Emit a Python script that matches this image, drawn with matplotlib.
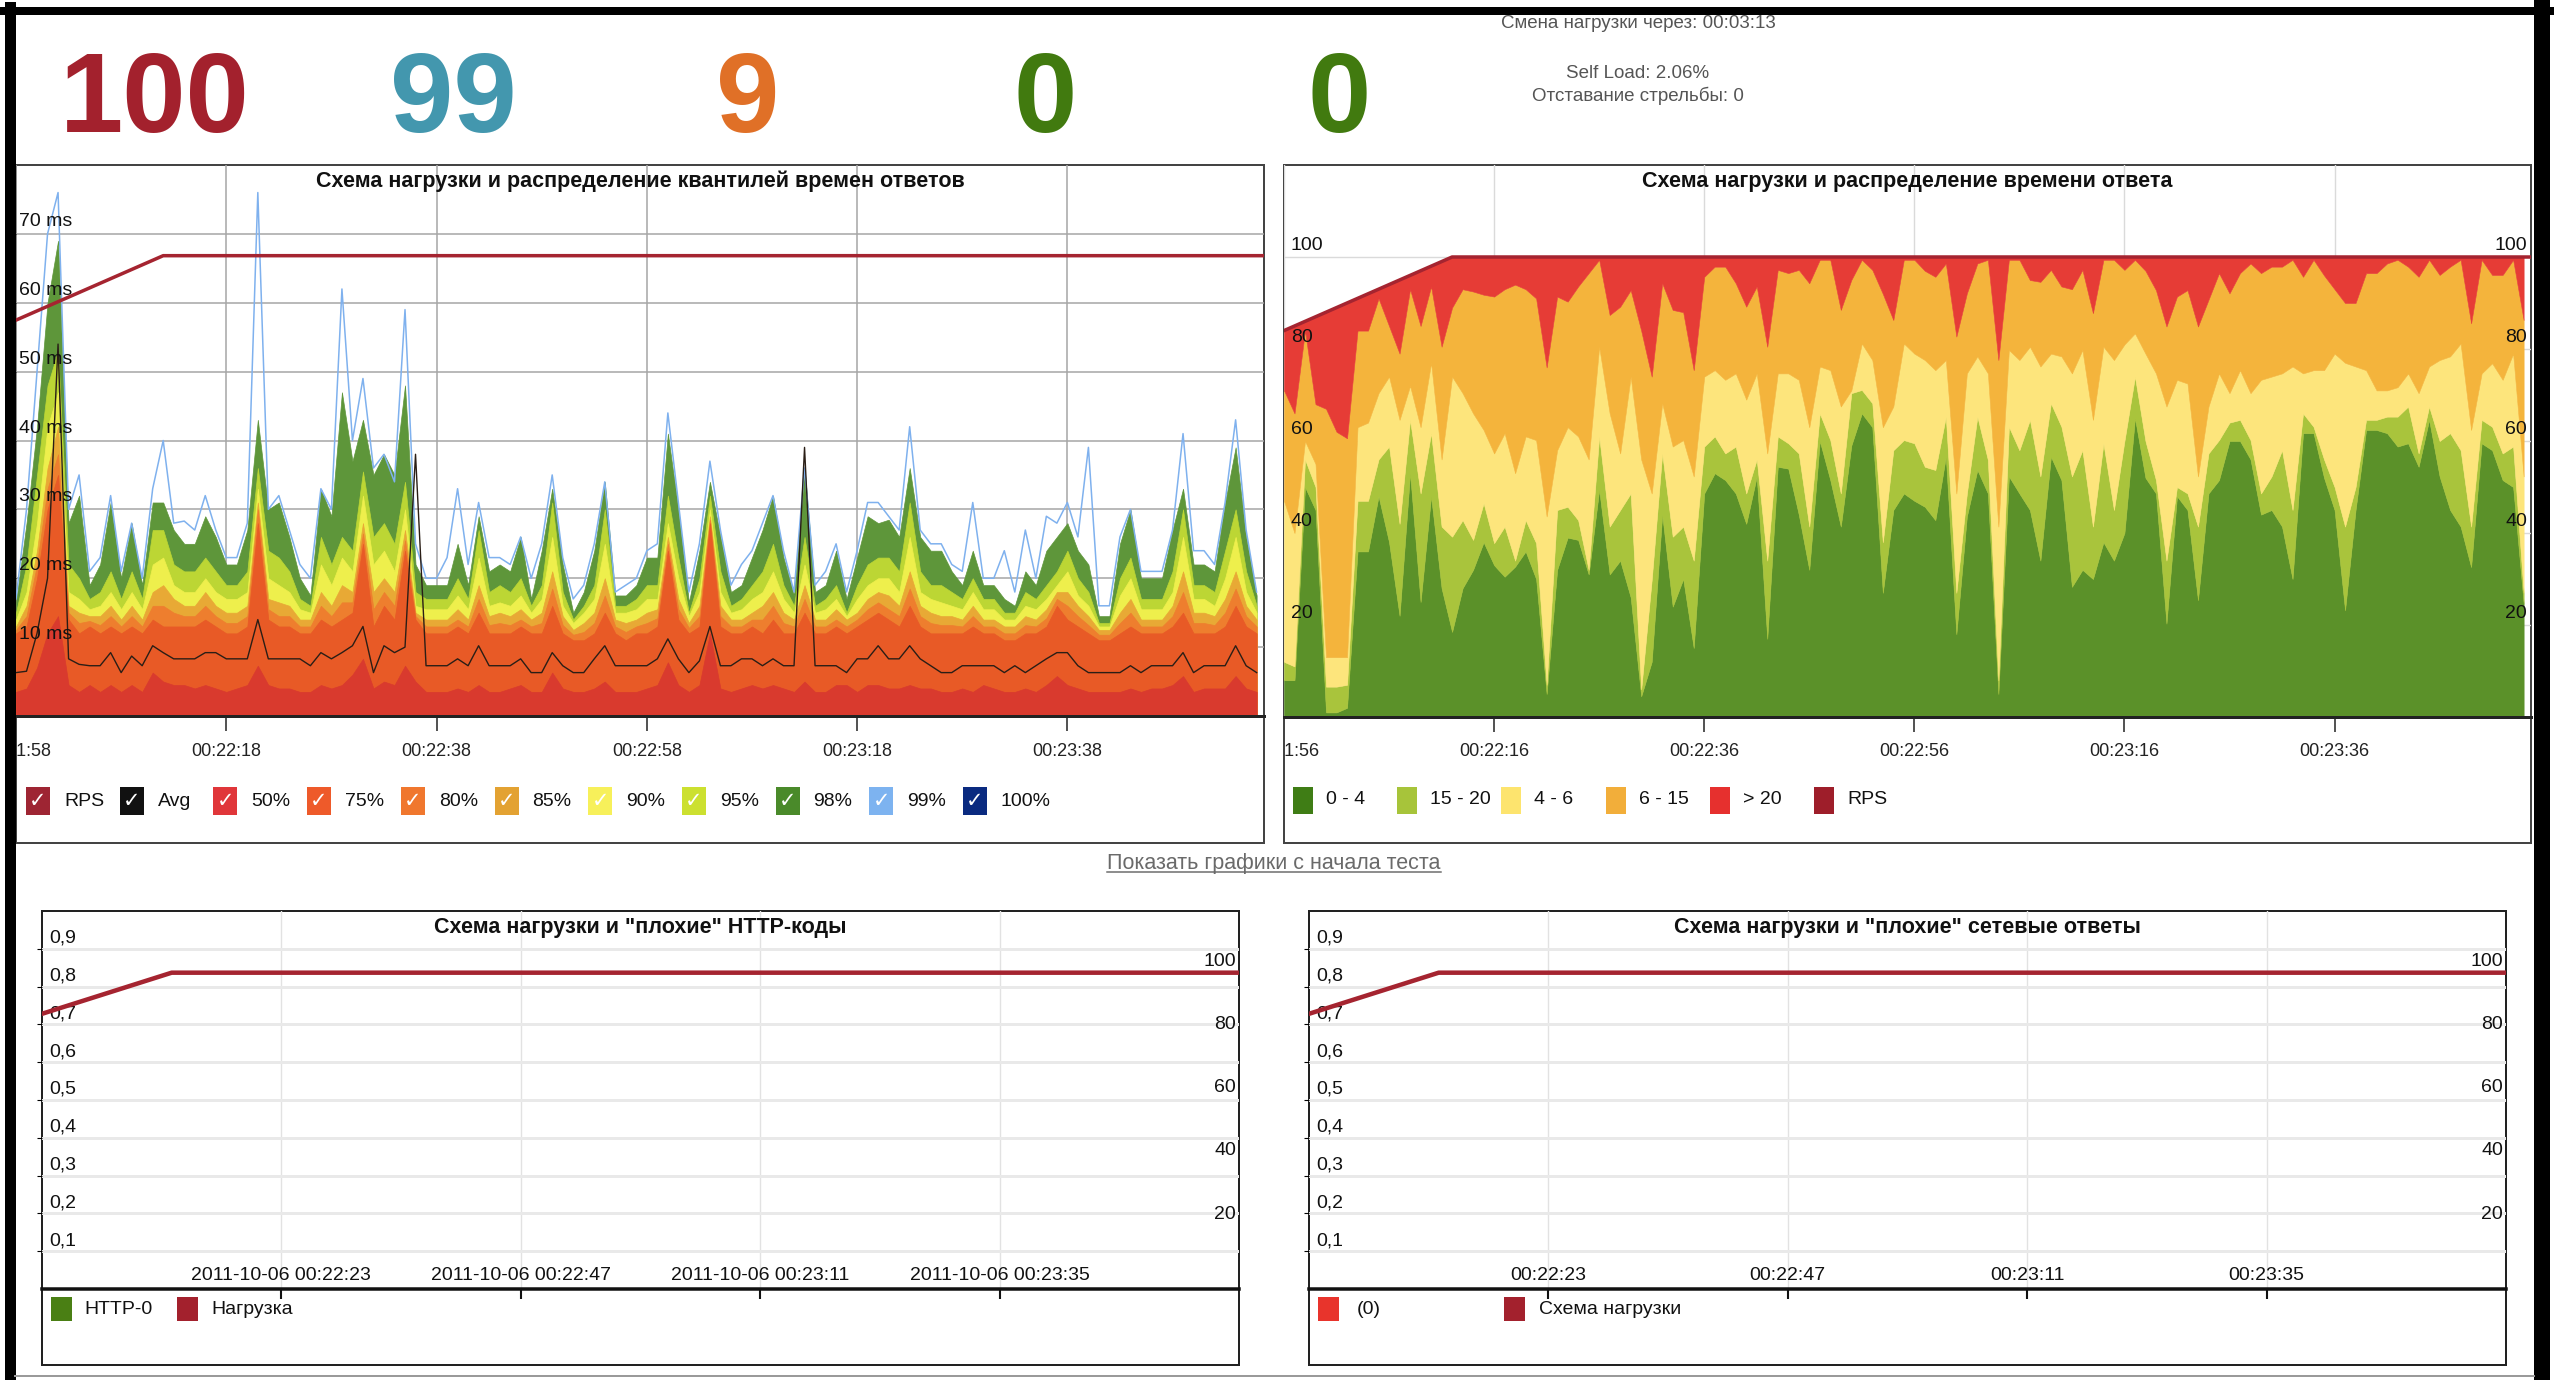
import numpy as np
import matplotlib
matplotlib.use('Agg')
import matplotlib.pyplot as plt
from matplotlib import font_manager
from matplotlib.patches import Rectangle
from matplotlib.lines import Line2D
from matplotlib.transforms import blended_transform_factory

plt.rcParams['font.family'] = ['Liberation Sans', 'DejaVu Sans']

# ---------------- header ----------------
top_values = ['100', '99', '9', '0', '0']
top_colors = ['#A3212D', '#4397AE', '#E07027', '#417A0F', '#417A0F']
status_lines = ['Смена нагрузки через: 00:03:13', 'Self Load: 2.06%', 'Отставание стрельбы: 0']
link_text = 'Показать графики с начала теста'

# ---------------- load schedule, one value per second ----------------
rps_start = '00:21:56'
rps = [84, 85, 86, 87, 88, 89, 90, 91, 92, 93, 94, 95, 96, 97, 98, 99] + [100] * 108

# ---------------- quantiles chart (ms), one value per second ----------------
q_title = 'Схема нагрузки и распределение квантилей времен ответов'
q_start = '00:21:58'
q_ticks = ['00:21:58', '00:22:18', '00:22:38', '00:22:58', '00:23:18', '00:23:38']
q_yticks = [10, 20, 30, 40, 50, 60, 70]
q_legend = ['RPS', 'Avg', '50%', '75%', '80%', '85%', '90%', '95%', '98%', '99%', '100%']

q50 = [3.5, 4, 7, 12, 14.5, 4.5, 3.5, 4.5, 3.5, 4.5,
       3.5, 4.5, 3.5, 6.3, 5, 4.5, 4.5, 4, 4.5, 4,
       3.5, 4, 4.5, 7.3, 4.5, 4, 4, 3.5, 3.5, 4.5,
       4, 4.5, 6, 8.3, 4, 5, 4.5, 7.3, 5, 3.5,
       3.5, 3.5, 4, 3.5, 4.5, 3.5, 3.5, 4, 4.5, 3.5,
       3.5, 6.3, 4, 3.5, 3.5, 4, 5, 3.5, 3.5, 3.5,
       4, 4.5, 7.8, 4.5, 3.5, 4.5, 12, 4, 3.5, 4,
       4.5, 4, 4.5, 4, 3.5, 5, 3.5, 3.5, 4.5, 4.5,
       3.5, 4.5, 4.5, 4, 4, 4.5, 4, 4, 3.5, 3.5,
       4, 3.5, 4.5, 4, 3.5, 3.5, 4, 3.5, 4.5, 5.8,
       4.5, 4, 3.5, 3.5, 3.5, 3.5, 4, 3.5, 4, 4,
       4.5, 5.8, 3.5, 4, 4, 4, 5.8, 4, 3.5]
q75 = [12, 13, 20, 30, 35, 14, 12, 13, 12, 13,
       12, 13, 12, 14, 13, 13, 13, 13, 14, 13,
       12, 12, 13, 28, 14, 13, 13, 12, 12, 14,
       13, 14, 15, 25, 13, 16, 14, 24, 14, 12,
       12, 12, 13, 12, 15, 12, 12, 12, 13, 12,
       12, 16, 12, 11, 11, 12, 15, 12, 11, 12,
       12, 13, 24, 14, 12, 13, 28, 13, 12, 12,
       13, 12, 14, 12, 12, 15, 12, 12, 13, 12,
       13, 14, 15, 14, 13, 16, 13, 12, 12, 12,
       12, 13, 12, 12, 11, 11, 12, 12, 13, 16,
       14, 13, 12, 11, 11, 12, 13, 12, 12, 12,
       13, 15, 12, 12, 12, 13, 16, 13, 12]
q80 = [12.5, 14.5, 22, 33, 38, 15, 13.5, 13.8, 13.2, 14.5,
       13, 14.5, 13, 16, 16, 15, 14.5, 14.5, 16, 14.5,
       13.5, 13.5, 14.5, 30, 15.5, 14.5, 14.5, 13, 13, 16,
       14.5, 16.5, 16.5, 26.5, 15.5, 18, 16, 25.5, 14.5, 13,
       13, 13, 14, 13, 17, 13.2, 13.5, 13.2, 14, 13,
       13.5, 18.5, 13.2, 11.8, 12.2, 13.5, 17.5, 13, 12.2, 13,
       13.5, 14.2, 25, 15.5, 12.8, 14.5, 28.5, 14.5, 13, 13,
       14, 14, 16, 13.5, 13, 17, 13, 13, 14, 13,
       14, 15.5, 16.5, 15.5, 14.5, 18.5, 14.5, 13.5, 13.2, 13.2,
       13, 14.5, 13, 13, 12, 12, 13.2, 13, 14.2, 17,
       16, 14.5, 13.2, 11.8, 11.8, 13.5, 15, 13, 13, 13,
       14.5, 18, 13.5, 13.5, 13.2, 15, 18.5, 14.5, 13]
q85 = [13, 16, 24, 36, 42, 16, 15, 14.5, 14.5, 16,
       14, 16, 14, 18, 19, 17, 16, 16, 18, 16,
       15, 15, 16, 31, 17, 16.5, 16, 14, 14, 18,
       16, 19, 18, 28, 18, 20, 18, 27, 15, 14,
       14, 14, 15.5, 14, 19, 14.5, 15, 14.5, 15.5, 14,
       15, 21, 14.5, 12.5, 13.5, 15, 20, 14, 13.5, 14,
       15, 15.5, 26, 17, 13.5, 16, 29, 16, 14, 14,
       15, 16, 18, 15, 14, 19, 14, 14, 15.5, 14,
       15, 17, 18, 17.5, 16, 21, 16, 15, 14.5, 14.5,
       14, 16, 14, 14, 13, 13, 14.5, 14, 15.5, 18,
       18, 16, 14.5, 12.5, 12.5, 15, 17, 14, 14, 14,
       16, 21, 15, 15, 14.5, 17, 21, 16, 14]
q90 = [14, 18, 28, 42, 47, 18, 17, 15.5, 16, 18,
       15.5, 18, 15.5, 22, 23, 19, 18, 18, 20, 18,
       17, 17, 18, 33, 20, 19, 18, 15.5, 15, 22,
       19, 23, 21, 32, 22, 24, 21, 30, 16, 15.5,
       15.5, 15.5, 17.5, 15.5, 23, 16, 16.5, 16, 17.5, 15,
       17, 26, 16, 13.5, 15, 17, 25, 15, 15, 15.5,
       17, 17, 28, 20, 14.5, 18, 30, 18, 15, 15.5,
       17, 18, 21, 17, 15, 22, 15, 15.5, 17, 14.5,
       17, 19, 20, 20, 18, 26, 18, 17, 16.5, 16,
       15.5, 18, 15.5, 15.5, 14, 14, 16, 15.5, 17, 19,
       21, 17.5, 16, 13, 13, 17.5, 20, 15.5, 15.5, 15.5,
       18, 26, 17, 17, 16, 20, 26, 18, 15]
q95 = [15, 22, 35, 48, 53, 22, 20, 17, 18, 21,
       17, 21, 17, 27, 27, 22, 21, 21, 23, 21,
       19, 19, 21, 36, 24, 23, 21, 17, 16, 26,
       22, 26, 24, 35.5, 26, 28, 25, 34, 18, 17,
       17, 17, 20, 17, 27, 18, 19, 18, 20, 16,
       19, 31, 18, 14, 16, 19, 30, 16, 16, 17,
       19, 19, 32, 23, 15, 20, 32, 21, 16, 17,
       19, 21, 25, 19, 16, 26, 16, 17, 19, 15,
       19, 22, 23, 23, 21, 31, 21, 19, 19, 18,
       17, 20, 17, 17, 15, 15, 18, 17, 19, 21,
       24, 20, 18, 13.5, 13.5, 20, 23, 17, 17, 17,
       21, 30, 19, 19, 18, 24, 30, 21, 16]
q98 = [16.5, 28, 42, 60, 69, 28, 32, 19, 22, 31,
       20, 28, 19, 31, 31, 27, 25, 25, 29, 26,
       22, 22, 27, 43, 30, 31, 26, 20, 17.5, 33,
       29, 47, 37, 43, 35, 38, 35, 48, 22, 19,
       19, 19, 25, 19, 29, 21, 22, 21, 26, 17,
       24, 33, 22, 15, 18, 24, 34, 17.5, 17.5, 19,
       23, 23, 41, 30, 16.5, 24, 34, 26, 18, 19,
       23, 27, 32, 23, 17.5, 36, 18, 19, 24, 17,
       23, 29, 28, 28.5, 26, 36, 26, 24, 24, 21,
       19, 24, 19, 19, 17, 16, 21, 19, 24, 26,
       28, 24, 22, 14.5, 14.5, 25, 30, 20, 20, 20,
       27, 33, 22, 22, 21, 31, 39, 26, 17.5]
q99 = [17, 30, 50, 70, 76, 30, 35, 21, 23, 32,
       21, 28, 20, 33, 40, 28, 28.3, 27, 32, 27,
       23, 23, 28, 76, 30, 32, 27, 22, 20, 33,
       30, 62, 40, 49, 36, 38, 34, 59, 25, 20,
       20, 23, 33, 22, 31, 23, 23, 22, 26, 20,
       25, 35, 23, 17, 19, 25, 34, 18, 19, 20,
       24, 25, 44, 31, 18, 25, 37, 27, 19, 22,
       24, 28, 32, 24, 18, 36, 19, 21, 25, 18,
       24, 31, 31, 29, 27, 42, 27, 25, 25, 22,
       21, 31, 20, 20, 24, 18, 27, 20, 29, 28,
       31, 26, 39, 16, 16, 26, 30, 21, 21, 21,
       27, 41, 24, 24, 22, 31, 43, 27, 18]
avg = [6.3, 6.5, 12, 20, 54, 8.3, 7.5, 7.3, 7.3, 9.2,
       6.3, 8.7, 7.3, 10.2, 9.2, 8.3, 8.3, 8.3, 9.2, 9.2,
       8.3, 8.3, 8.3, 14, 8.3, 8.3, 8.3, 8.3, 7.3, 9.2,
       8.3, 9.2, 10.2, 13, 6.3, 10.2, 9.2, 10, 38, 7.3,
       7.3, 7.3, 8.3, 7.3, 10.2, 7.3, 7.3, 7.3, 8.3, 6.3,
       6.3, 9.2, 7.3, 6.3, 6.3, 8.3, 10.2, 7.3, 7.3, 7.3,
       7.3, 8.3, 11.2, 8.3, 6.3, 8, 13, 7.3, 7.3, 8.3,
       8.3, 7.3, 8.3, 7.3, 7.3, 39, 7.3, 7.3, 7.3, 6.3,
       8.3, 8.3, 10.2, 8.3, 8.3, 10.2, 8.3, 7.3, 6.3, 6.3,
       7.3, 7.3, 7.3, 7.3, 6.3, 7.3, 6.3, 7.3, 8.3, 9.2,
       9.2, 7.3, 6.3, 6.3, 6.3, 6.3, 7.3, 6.3, 7.3, 7.3,
       7.3, 9.2, 6.3, 7.3, 7.3, 7.3, 10.2, 7.3, 6.3]

# ---------------- response time distribution (stack tops, responses/s) ----------------
d_title = 'Схема нагрузки и распределение времени ответа'
d_start = '00:21:56'
d_ticks = ['00:21:56', '00:22:16', '00:22:36', '00:22:56', '00:23:16', '00:23:36']
d_yticks = [20, 40, 60, 80, 100]
d_legend = ['0 - 4', '15 - 20', '4 - 6', '6 - 15', '> 20', 'RPS']

cum_0_4 = [8, 8, 50, 45, 1, 1, 2, 36, 36, 48,
           38, 22, 53, 25, 48, 28, 18.5, 28, 32, 38,
           33, 30.5, 32.7, 36, 30, 5, 32, 39, 38.5, 31,
           49.4, 31, 34, 26, 4.5, 12, 44, 24, 30, 15,
           48.6, 53, 51.5, 48.6, 42, 52.3, 17, 54.4, 54, 44,
           32, 60, 51.5, 41.4, 59, 66, 63, 27, 45, 48.6,
           47, 45.7, 42.8, 56.6, 18, 43.6, 53.7, 48.6, 5, 52.3,
           48.6, 45, 34, 56.6, 51.5, 28.3, 32, 30, 38, 34,
           40, 65, 52, 48.6, 20.3, 48, 45, 25.4, 48.6, 51.5,
           60, 60, 56, 44, 45, 41.4, 30, 61.7, 61.7, 52,
           45, 23.2, 45, 62.4, 62.4, 61.7, 58.8, 59.5, 54.4, 64.6,
           52.3, 45, 41.4, 32.6, 59.5, 58, 51.5, 50, 24.7]
cum_15_20 = [12, 11, 56, 50, 6.6, 6.6, 7, 47, 47, 56,
             58.8, 42, 64.6, 48.6, 61.7, 41.4, 39.2, 42.8, 38.5, 46.5,
             37.8, 41.4, 34, 42.8, 37.8, 7, 45, 45.7, 42.8, 32,
             61, 41.4, 45, 48.6, 6, 29.8, 57.3, 39.2, 41.4, 34,
             58.8, 61, 57.3, 58.8, 48.6, 56, 34, 61, 59.5, 57.3,
             41.4, 66, 60.2, 48.6, 70.4, 71.1, 68.2, 38, 58, 60.2,
             59.5, 54.4, 53.7, 65.3, 27, 48.6, 65.3, 55.9, 8, 63.1,
             58, 64.6, 52.3, 68.2, 63.1, 52.3, 58, 41.4, 59.5, 45,
             60, 74, 60, 51.5, 34, 50, 48.6, 41.4, 57.3, 60.2,
             64, 64.6, 60.2, 48.6, 52.3, 58, 45, 66, 63.1, 56,
             50, 41.4, 50, 64.6, 64.6, 65.3, 65.3, 67.5, 57.3, 67.5,
             60, 61.7, 58, 41.4, 64.6, 63.1, 57.3, 58.8, 27]
cum_4_6 = [47, 40, 60, 55, 13, 13, 13, 63, 64, 70.4,
           74, 64.6, 72, 63, 77, 56, 74, 70.4, 66, 62.4,
           57.3, 61.7, 53, 61, 60.2, 43.6, 58, 63, 61, 56,
           80.5, 66, 57.3, 74, 56, 48.6, 68.2, 58.8, 60.2, 52.3,
           74, 75.4, 73.3, 74.7, 69, 74.7, 57.3, 74.7, 74.7, 73.3,
           63, 76.2, 75.4, 67.5, 71, 81.2, 77.6, 63, 67.5, 81.2,
           79, 77.6, 75.4, 77.6, 48.6, 74.7, 78.4, 74.7, 41.4, 79.8,
           77.6, 80.5, 76.2, 79, 78.4, 74.7, 79.8, 64.6, 80.5, 77.6,
           81, 83.4, 79, 74.7, 67.5, 73.3, 72.5, 52.3, 67.5, 74.7,
           70.4, 75.4, 70.4, 73.3, 74, 74.7, 76.2, 74.7, 75.4, 75.4,
           79, 77, 76.2, 75.4, 71, 71, 71.7, 74.7, 70.4, 76.2,
           77.6, 78.4, 81.2, 62.4, 74.7, 76.9, 73.3, 79, 52.3]
cum_6_15 = [71, 66, 84, 68, 67, 62, 60.6, 84, 84, 91,
            85, 79, 93, 85, 93.6, 80.5, 89, 93, 92.5, 91.8,
            91.4, 93, 94, 93, 91, 76, 91.4, 90.3, 93.6, 96.5,
            99.4, 87.4, 89.2, 92.8, 84, 74, 94.3, 88.5, 88, 75.4,
            95.7, 97.9, 97.9, 94.3, 89.2, 93.6, 80.5, 97.2, 96.5, 97.2,
            94.3, 99.4, 99.4, 88.5, 95, 99.4, 97.2, 92, 86.3, 99.4,
            99.4, 97, 95.7, 98.6, 82.7, 92.1, 98.6, 99.4, 77.6, 99.4,
            99.4, 95, 94.6, 97.2, 93.6, 93, 97.2, 87.8, 99.4, 99.4,
            97.2, 99.4, 97, 92.8, 84.9, 91.4, 92.8, 84.9, 90.7, 96.5,
            92.1, 96.5, 98.6, 96.5, 97.9, 97.9, 99.4, 95.7, 99.4, 96,
            93, 90, 90, 96.5, 96.5, 98.6, 99.4, 97.9, 95.7, 99.4,
            96.1, 97.9, 99.4, 85.6, 99.4, 96.1, 96.1, 99.4, 86.3]

# ---------------- bottom charts ----------------
b_start = '00:21:59'
http_title = 'Схема нагрузки и "плохие" HTTP-коды'
net_title = 'Схема нагрузки и "плохие" сетевые ответы'
http_ticks = ['2011-10-06 00:22:23', '2011-10-06 00:22:47', '2011-10-06 00:23:11', '2011-10-06 00:23:35']
net_ticks = ['00:22:23', '00:22:47', '00:23:11', '00:23:35']
err_ticks = [0.1, 0.2, 0.3, 0.4, 0.5, 0.6, 0.7, 0.8, 0.9]
err_labels = ['0,1', '0,2', '0,3', '0,4', '0,5', '0,6', '0,7', '0,8', '0,9']
load_ticks = [20, 40, 60, 80, 100]
http_legend = ['HTTP-0', 'Нагрузка']
net_legend = ['(0)', 'Схема нагрузки']

# ---------------- helpers ----------------
W, H = 2555, 1380
PT = 0.72  # points per pixel at dpi 100
RPS_COLOR = '#A52430'


def fig_rect(x0, y0, x1, y1):
    return [x0 / W, 1 - y1 / H, (x1 - x0) / W, (y1 - y0) / H]


def fx(x):
    return x / W


def fy(y):
    return 1 - y / H


def sec(stamp):
    h, m, s = stamp.split(' ')[-1].split(':')
    return int(h) * 3600 + int(m) * 60 + int(s)


fig = plt.figure(figsize=(W / 100, H / 100), dpi=100)
fig.patch.set_facecolor('white')


def box(x0, y0, x1, y1, color='#444444', lw=2):
    b = fig.add_axes(fig_rect(x0, y0, x1, y1))
    b.set_xlim(0, 1)
    b.set_ylim(0, 1)
    b.set_xticks([])
    b.set_yticks([])
    for s in b.spines.values():
        s.set_color(color)
        s.set_linewidth(lw * PT)
    b.set_zorder(0)
    return b


def legend_row(xs, yc, labels, colors, w, h, gap, check=False, fs=14):
    for xb, lab, col in zip(xs, labels, colors):
        fig.add_artist(Rectangle((fx(xb), fy(yc + h / 2)), w / W, h / H,
                                 transform=fig.transFigure, facecolor=col,
                                 edgecolor='none', zorder=3))
        if check:
            fig.text(fx(xb + w / 2), fy(yc), '\u2713', color='white', fontsize=15,
                     fontweight='bold', ha='center', va='center',
                     family=['DejaVu Sans'], zorder=4)
        fig.text(fx(xb + w + gap), fy(yc), lab, fontsize=fs, ha='left',
                 va='center', color='#111111', zorder=4)


def time_axis(ax, bx, ticks, y_frac):
    ax.set_xticks([sec(s) for s in ticks])
    ax.tick_params(axis='x', direction='out', length=15 * PT, width=1.2,
                   color='#333333', labelbottom=False)
    ax.xaxis.get_major_ticks()[0].tick1line.set_visible(False)
    tr = blended_transform_factory(ax.transData, bx.transAxes)
    for s in ticks:
        # the first label sits on the panel edge and is clipped by the panel, as on screen
        bx.text(sec(s), y_frac, s, transform=tr, ha='center', va='center',
                fontsize=13, color='#222222', clip_on=True)


# ---------------- header ----------------
names = {f.name for f in font_manager.fontManager.ttflist}
narrow = 'Liberation Sans Narrow' in names
big_family = 'Liberation Sans Narrow' if narrow else 'Liberation Sans'
big_size = 92 if narrow else 82
for xc, val, col in zip([155, 453, 748, 1045, 1339], top_values, top_colors):
    fig.text(fx(xc), fy(132), val, ha='center', va='baseline', fontsize=big_size,
             fontweight='bold', family=big_family, color=col)
for yc, line in zip([23, 73, 96], status_lines):
    fig.text(fx(1638), fy(yc), line, ha='center', va='center', fontsize=13.5,
             color='#555555', zorder=7)

# ---------------- quantiles chart ----------------
bq = box(16, 165, 1264, 843)
axq = fig.add_axes(fig_rect(16, 165, 1264, 716))
axq.set_facecolor('none')
axq.set_zorder(1)
tq = sec(q_start) + np.arange(len(q50))
axq.set_xlim(tq[0], tq[0] + 118.7)
axq.set_ylim(0, 80)
q_bands = [(q98, '#5E963A'), (q95, '#BCD634'), (q90, '#EEEF4C'), (q85, '#E8A935'),
           (q80, '#EE7E2E'), (q75, '#E85A26'), (q50, '#D93A2E')]
for vals, col in q_bands:
    axq.fill_between(tq, 0, vals, facecolor=col, edgecolor=col, lw=0.5, zorder=2)
axq.plot(tq, q99, color='#7FB1EE', lw=1.1, zorder=3)
axq.plot(tq, avg, color='#2A1E16', lw=1.0, zorder=3)
axq.set_yticks(q_yticks)
axq.grid(True, color='#A6A6A6', lw=1.1)
axq.set_axisbelow(True)
axq.tick_params(axis='y', left=False, labelleft=False)
time_axis(axq, bq, q_ticks, (843 - 751) / (843 - 165))
for s in ['top', 'left', 'right']:
    axq.spines[s].set_visible(False)
axq.spines['bottom'].set_color('#222222')
axq.spines['bottom'].set_linewidth(3 * PT)
for v in q_yticks:
    axq.annotate(f'{v} ms', xy=(0, v), xycoords=('axes fraction', 'data'),
                 xytext=(3, 4), textcoords='offset pixels', ha='left', va='bottom',
                 fontsize=14, color='#111111', zorder=6)
axq.text(0.5, 1 - 16 / 551, q_title, transform=axq.transAxes, ha='center',
         va='center', fontsize=15.5, fontweight='bold', color='#111111', zorder=6)
axq2 = axq.twinx()
axq2.set_ylim(0, 119.7)
axq2.plot(sec(rps_start) + np.arange(len(rps)), rps, color=RPS_COLOR, lw=3.5 * PT)
axq2.axis('off')
legend_row([26 + 93.7 * i for i in range(len(q_legend))], 801, q_legend,
           ['#9E2533', '#111111', '#E0363A', '#EE5A2A', '#F0772E', '#E3A232',
            '#F7F05A', '#CCE030', '#4A8A2A', '#7DB3F0', '#0A2A80'],
           24, 28, 14, check=True)

# ---------------- distribution chart ----------------
bd = box(1284, 165, 2531, 843)
axd = fig.add_axes(fig_rect(1284, 165, 2531, 717))
axd.set_facecolor('none')
axd.set_zorder(1)
td = sec(d_start) + np.arange(len(cum_0_4))
total = np.array(rps[:len(cum_0_4)])
axd.set_xlim(td[0], td[0] + 118.7)
axd.set_ylim(0, 120)
d_layers = [(np.zeros(len(td)), cum_0_4, '#5B9129'), (cum_0_4, cum_15_20, '#A9C43C'),
            (cum_15_20, cum_4_6, '#FDE57C'), (cum_4_6, cum_6_15, '#F4B43C'),
            (cum_6_15, total, '#E63C36')]
for lo, hi, col in d_layers:
    axd.fill_between(td, lo, hi, facecolor=col, edgecolor=col, lw=0.4, zorder=2)
axd.plot(sec(rps_start) + np.arange(len(rps)), rps, color=RPS_COLOR, lw=3.5 * PT, zorder=4)
axd.set_yticks(d_yticks)
axd.grid(True, color='#DADADA', lw=1)
axd.set_axisbelow(True)
axd.tick_params(axis='y', left=False, labelleft=False)
time_axis(axd, bd, d_ticks, (843 - 752) / (843 - 165))
for s in ['top', 'left', 'right']:
    axd.spines[s].set_visible(False)
axd.spines['bottom'].set_color('#222222')
axd.spines['bottom'].set_linewidth(3 * PT)
for v in d_yticks:
    axd.annotate(str(v), xy=(0, v), xycoords=('axes fraction', 'data'),
                 xytext=(7, 3), textcoords='offset pixels', ha='left', va='bottom',
                 fontsize=14, color='#111111', zorder=6)
    axd.annotate(str(v), xy=(1, v), xycoords=('axes fraction', 'data'),
                 xytext=(-4, 3), textcoords='offset pixels', ha='right', va='bottom',
                 fontsize=14, color='#111111', zorder=6)
axd.text(0.5, 1 - 17 / 552, d_title, transform=axd.transAxes, ha='center',
         va='center', fontsize=15.5, fontweight='bold', color='#111111', zorder=6)
legend_row([1293 + 104.2 * i for i in range(len(d_legend))], 800, d_legend,
           ['#3F7D15', '#A7C43A', '#FDE46E', '#F2AE3A', '#E6302E', '#9E1E2A'],
           20, 27, 13)

# ---------------- link ----------------
link = fig.text(fx(1274), fy(869), link_text, ha='center', va='baseline',
                fontsize=15.5, color='#6A6A6A')


# ---------------- bottom charts ----------------
def bottom_chart(x0, x1, title, ticks, legend, legend_colors, legend_x, legend_gap):
    box(x0, 911, x1, 1365, color='#222222', lw=2)
    a = fig.add_axes(fig_rect(x0, 911, x1, 1289))
    a.set_facecolor('none')
    a.set_zorder(1)
    a.set_xlim(sec(b_start), sec(b_start) + 120)
    a.set_ylim(0, 1.0)
    a.set_yticks(err_ticks)
    a.set_xticks([sec(s) for s in ticks])
    a.grid(axis='y', color='#E9E9E9', lw=3 * PT)
    a.grid(axis='x', color='#E2E2E2', lw=1)
    a.set_axisbelow(True)
    a.tick_params(axis='y', left=False, labelleft=False)
    a.tick_params(axis='x', direction='out', length=10 * PT, width=1.5,
                  color='#111111', labelbottom=False)
    for s in ['top', 'left', 'right']:
        a.spines[s].set_visible(False)
    a.spines['bottom'].set_color('#111111')
    a.spines['bottom'].set_linewidth(3.5 * PT)
    for v, lab in zip(err_ticks, err_labels):
        a.annotate(lab, xy=(0, v), xycoords=('axes fraction', 'data'),
                   xytext=(7, 2), textcoords='offset pixels', ha='left',
                   va='bottom', fontsize=14, color='#111111')
    for s in ticks:
        a.annotate(s, xy=(sec(s), 0), xytext=(0, 5), textcoords='offset pixels',
                   ha='center', va='bottom', fontsize=14, color='#111111',
                   annotation_clip=False)
    a.text(0.5, 1 - 17 / 378, title, transform=a.transAxes, ha='center',
           va='center', fontsize=15.5, fontweight='bold', color='#111111')
    a2 = a.twinx()
    a2.set_ylim(0, 119.5)
    a2.plot(sec(rps_start) + np.arange(len(rps)), rps, color=RPS_COLOR, lw=4.5 * PT)
    a2.axis('off')
    for v in load_ticks:
        a.annotate(str(v), xy=(1, v / 119.5), xycoords='axes fraction',
                   xytext=(-3, 3), textcoords='offset pixels', ha='right',
                   va='bottom', fontsize=14, color='#111111')
    for xb, lab, col, gap in zip(legend_x, legend, legend_colors, legend_gap):
        legend_row([xb], 1309, [lab], [col], 21, 24, gap, fs=14)


bottom_chart(42, 1239, http_title, http_ticks, http_legend,
             ['#4A7F14', '#A3212D'], [51, 177], [12, 13])
bottom_chart(1309, 2506, net_title, net_ticks, net_legend,
             ['#E8342C', '#A3212D'], [1318, 1504], [18, 14])

# ---------------- outer frame ----------------
fig.add_artist(Line2D([fx(4), fx(2550)], [fy(11), fy(11)], transform=fig.transFigure,
                      color='black', lw=8 * PT, zorder=5))
fig.add_artist(Line2D([fx(9.5), fx(9.5)], [fy(7), fy(1380)], transform=fig.transFigure,
                      color='black', lw=11 * PT, zorder=5))
fig.add_artist(Line2D([fx(2542), fx(2542)], [fy(7), fy(1380)], transform=fig.transFigure,
                      color='black', lw=16 * PT, zorder=5))
fig.add_artist(Line2D([fx(15), fx(2534)], [fy(1376), fy(1376)], transform=fig.transFigure,
                      color='#9A9A9A', lw=2 * PT, zorder=5))

# underline for the link
fig.canvas.draw()
lb = link.get_window_extent()
fig.add_artist(Line2D([lb.x0 / W, lb.x1 / W], [fy(872), fy(872)], transform=fig.transFigure,
                      color='#6A6A6A', lw=1.5 * PT))

fig.savefig('out.png', dpi=100)
